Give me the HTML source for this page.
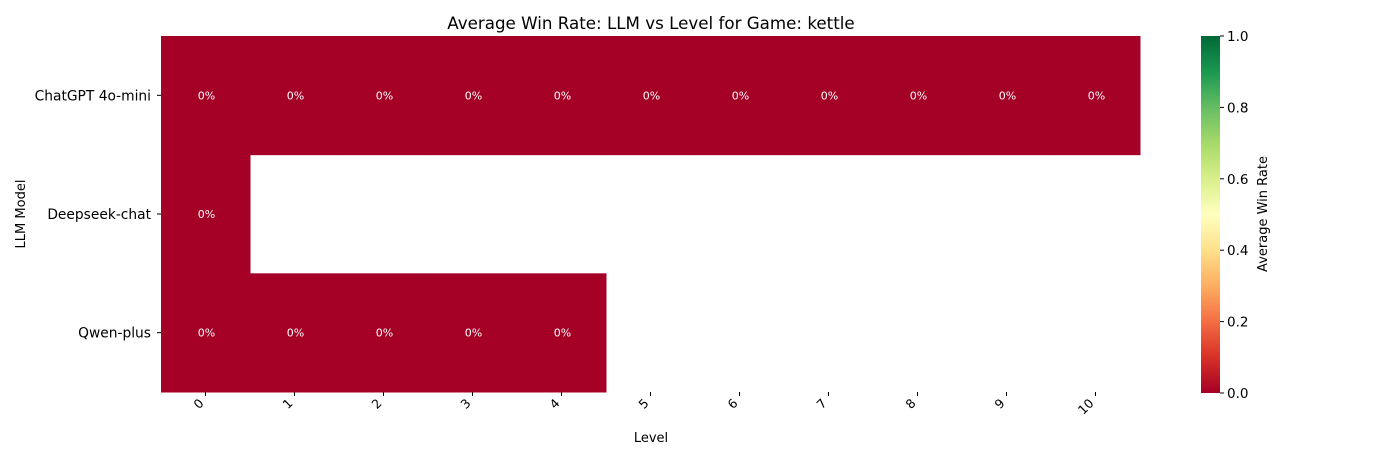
<!DOCTYPE html>
<html><head><meta charset="utf-8"><style>
html,body{margin:0;padding:0;background:#fff;}
svg{display:block;font-family:"DejaVu Sans","Liberation Sans",sans-serif;}
</style></head><body>
<svg id="chart" width="1400" height="459">
<defs><linearGradient id="rdylgn" x1="0" y1="1" x2="0" y2="0">
<stop offset="0" stop-color="#a50026"/><stop offset="0.1" stop-color="#d73027"/><stop offset="0.2" stop-color="#f46d43"/><stop offset="0.3" stop-color="#fdae61"/><stop offset="0.4" stop-color="#fee08b"/><stop offset="0.5" stop-color="#ffffbf"/><stop offset="0.6" stop-color="#d9ef8b"/><stop offset="0.7" stop-color="#a6d96a"/><stop offset="0.8" stop-color="#66bd63"/><stop offset="0.9" stop-color="#1a9850"/><stop offset="1" stop-color="#006837"/>
</linearGradient></defs>
<text x="651" y="29" font-size="16.7" text-anchor="middle">Average Win Rate: LLM vs Level for Game: kettle</text>
<g id="cells"></g>
<g id="xticks"></g>
<g id="yticks"></g>
<text x="651" y="442" font-size="13" text-anchor="middle">Level</text>
<text transform="translate(25,214) rotate(-90)" font-size="13" text-anchor="middle">LLM Model</text>
<rect x="1201" y="36" width="19" height="357" fill="url(#rdylgn)"/>
<g id="cbticks"></g>
<text transform="translate(1267,214) rotate(-90)" font-size="13" text-anchor="middle">Average Win Rate</text>
</svg>
<script>
const models = ["ChatGPT 4o-mini","Deepseek-chat","Qwen-plus"];
const levels = ["0","1","2","3","4","5","6","7","8","9","10"];
const winRates = [
 [0,0,0,0,0,0,0,0,0,0,0],
 [0,null,null,null,null,null,null,null,null,null,null],
 [0,0,0,0,0,null,null,null,null,null,null]
];
const cbTicks = [0,0.2,0.4,0.6,0.8,1.0];
const NS="http://www.w3.org/2000/svg";
const X0=161,X1=1140,Y0=36,Y1=392;
const cw=(X1-X0)/levels.length, ch=(Y1-Y0)/models.length;
const xs=i=>X0+i*cw, ys=j=>Y0+j*ch;
const stops=[[0,[165,0,38]],[0.1,[215,48,39]],[0.2,[244,109,67]],[0.3,[253,174,97]],[0.4,[254,224,139]],[0.5,[255,255,191]],[0.6,[217,239,139]],[0.7,[166,217,106]],[0.8,[102,189,99]],[0.9,[26,152,80]],[1,[0,104,55]]];
function color(v){for(let k=1;k<stops.length;k++){if(v<=stops[k][0]){const a=stops[k-1],b=stops[k],t=(v-a[0])/(b[0]-a[0]);return "rgb("+a[1].map((c,i)=>Math.round(c+(b[1][i]-c)*t)).join(",")+")";}}return "rgb(0,104,55)";}
function mk(tag,attrs,parent){const e=document.createElementNS(NS,tag);for(const k in attrs)e.setAttribute(k,attrs[k]);parent.appendChild(e);return e;}
const cells=document.getElementById('cells');
winRates.forEach((row,j)=>row.forEach((v,i)=>{
 if(v===null)return;
 const r=mk('rect',{x:xs(i),y:ys(j),width:cw+0.5,height:ch+0.5,fill:color(v)},cells);
 
 
 const t=mk('text',{x:xs(i)+cw/2+1,y:ys(j)+ch/2+4,'font-size':11,fill:'#fff','text-anchor':'middle'},cells);
 t.textContent=Math.round(v*100)+"%";
 
 
}));
const xt=document.getElementById('xticks');
levels.forEach((l,i)=>{
 const x=xs(i)+cw/2;
 mk('line',{x1:x,y1:Y1,x2:x,y2:Y1+4,stroke:'#000'},xt);
 const t=mk('text',{transform:`translate(${x-1},${Y1+12}) rotate(-45)`,'font-size':12.5,'text-anchor':'end'},xt);
 t.textContent=l;
 
 
});
const yt=document.getElementById('yticks');
models.forEach((m,j)=>{
 const y=ys(j)+ch/2;
 mk('line',{x1:X0-4,y1:y,x2:X0,y2:y,stroke:'#000'},yt);
 const t=mk('text',{x:X0-10,y:y+5,'font-size':13.8,'text-anchor':'end'},yt);
 t.textContent=m;
 
 
});
const cb=document.getElementById('cbticks');
cbTicks.forEach(v=>{
 const y=393-v*357;
 mk('line',{x1:1220,y1:y,x2:1224,y2:y,stroke:'#000'},cb);
 const t=mk('text',{x:1227,y:y+5,'font-size':13.5},cb);
 t.textContent=v.toFixed(1);
 
 
});
</script>
</body></html>
